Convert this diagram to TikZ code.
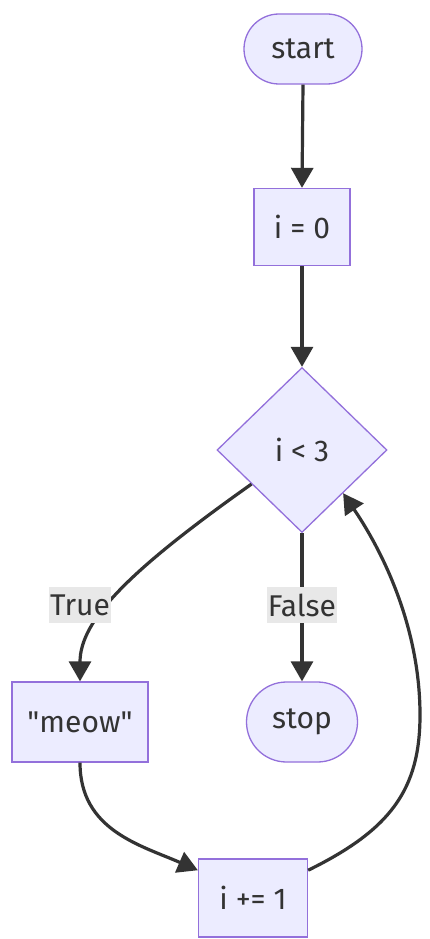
\documentclass[tikz,border=0pt]{standalone}
\usepackage{fontspec}
\setmainfont{Fira Sans}
\newfontfamily\rawf{Fira Sans}
\usetikzlibrary{shapes.geometric,shapes.misc,arrows.meta,calc}
\definecolor{nfill}{HTML}{ECECFF}
\definecolor{nline}{HTML}{9370DB}
\definecolor{ink}{HTML}{333333}
\definecolor{lbl}{HTML}{E8E8E8}
\tikzset{
  base/.style={draw=nline,fill=nfill,line width=1.3pt,text=ink,font=\fontsize{30}{33}\selectfont,inner sep=0pt},
  term/.style={base,rounded rectangle},
  boxn/.style={base,rectangle},
  deci/.style={base,diamond},
  edge/.style={draw=ink,line width=3.2pt,-{Triangle[length=20pt,width=22pt]}},
  elab/.style={fill=lbl,text=ink,font=\fontsize{30}{33}\selectfont,inner xsep=1pt,minimum height=36pt}
}
\begin{document}
\begin{tikzpicture}[x=1pt,y=-1pt]
\useasboundingbox[fill=white] (0,0) rectangle (429,939);
\node[term,minimum width=118pt,minimum height=70pt] (start) at (303,49) {start};
\node[boxn,minimum width=96pt,minimum height=77pt] (i0) at (302,227) {i = 0};
\node[deci,minimum width=170pt,minimum height=165pt,aspect=1.03] (d) at (302,450) {i < 3};
\node[term,minimum width=111pt,minimum height=80pt] (stop) at (302,722) {stop};
\node[boxn,minimum width=136pt,minimum height=80pt] (m) at (80,722) {\rawf "meow"};
\node[boxn,minimum width=109pt,minimum height=78pt] (inc) at (253,898) {i += 1};
\coordinate (dl) at ($(d.west)!0.41!(d.south)$);
\coordinate (dr) at ($(d.south)!0.48!(d.east)$);
\coordinate (incr) at ($(inc.north east)!0.15!(inc.south east)$);
\coordinate (incl) at ($(inc.north west)!0.15!(inc.south west)$);
\draw[edge] (start.south) -- (i0.north);
\draw[edge] (i0.north |- i0.south) -- (d.north);
\draw[edge] (dl) .. controls (130,570) and (80,620) .. (m.north);
\draw[edge] (d.south) -- (stop.north);
\draw[edge] (m.south) .. controls (80,830) and (140,845) .. (incl);
\draw[edge] (incr) .. controls (390,830) and (420,790) .. (420,715) .. controls (420,630) and (385,555) .. (dr);
\node[elab] (lt) at (80,605) {True};
\node[elab] (lf) at (302,605) {False};
\end{tikzpicture}
\end{document}
